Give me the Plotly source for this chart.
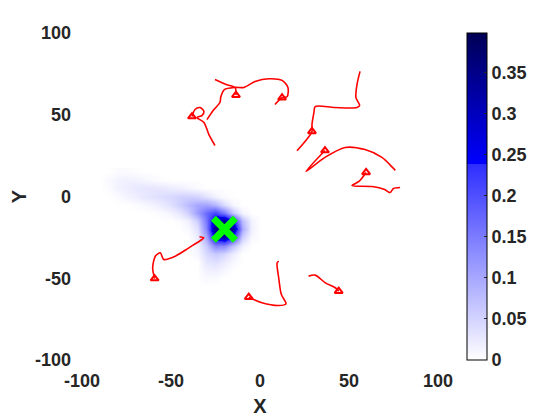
import plotly.graph_objects as go

# density grid
grid_x = [-90, -85, -80, -75, -70, -65, -60, -55, -50, -45, -40, -35, -30, -25, -20, -15, -10, -5, 0]
grid_y = [15, 10, 5, 0, -5, -10, -15, -20, -25, -30, -35, -40, -45, -50, -55]
density = [
    [0, 0, 0.004, 0.004, 0.002, 0, 0, 0, 0, 0, 0, 0, 0, 0, 0, 0, 0, 0, 0],
    [0, 0.006, 0.014, 0.016, 0.014, 0.010, 0.005, 0.002, 0, 0, 0, 0, 0, 0, 0, 0, 0, 0, 0],
    [0, 0.004, 0.014, 0.020, 0.025, 0.028, 0.028, 0.025, 0.020, 0.016, 0.010, 0.005, 0, 0, 0, 0, 0, 0, 0],
    [0, 0, 0.004, 0.012, 0.018, 0.026, 0.032, 0.038, 0.045, 0.052, 0.055, 0.050, 0.035, 0.015, 0.004, 0, 0, 0, 0],
    [0, 0, 0, 0, 0.004, 0.008, 0.014, 0.022, 0.036, 0.055, 0.078, 0.100, 0.105, 0.085, 0.040, 0.010, 0, 0, 0],
    [0, 0, 0, 0, 0, 0, 0.002, 0.006, 0.014, 0.028, 0.055, 0.110, 0.170, 0.210, 0.150, 0.060, 0.012, 0, 0],
    [0, 0, 0, 0, 0, 0, 0, 0, 0, 0.005, 0.016, 0.055, 0.155, 0.310, 0.350, 0.240, 0.075, 0.014, 0],
    [0, 0, 0, 0, 0, 0, 0, 0, 0, 0, 0.008, 0.032, 0.140, 0.355, 0.395, 0.325, 0.095, 0.016, 0],
    [0, 0, 0, 0, 0, 0, 0, 0, 0, 0, 0, 0.020, 0.100, 0.280, 0.335, 0.215, 0.055, 0.008, 0],
    [0, 0, 0, 0, 0, 0, 0, 0, 0, 0, 0, 0.014, 0.060, 0.135, 0.130, 0.065, 0.016, 0, 0],
    [0, 0, 0, 0, 0, 0, 0, 0, 0, 0, 0, 0.010, 0.042, 0.060, 0.046, 0.018, 0, 0, 0],
    [0, 0, 0, 0, 0, 0, 0, 0, 0, 0, 0, 0, 0.028, 0.036, 0.022, 0.007, 0, 0, 0],
    [0, 0, 0, 0, 0, 0, 0, 0, 0, 0, 0, 0, 0.016, 0.018, 0.010, 0, 0, 0, 0],
    [0, 0, 0, 0, 0, 0, 0, 0, 0, 0, 0, 0, 0.006, 0.006, 0, 0, 0, 0, 0],
    [0, 0, 0, 0, 0, 0, 0, 0, 0, 0, 0, 0, 0, 0, 0, 0, 0, 0, 0],
]

# red trajectories
traj_x = [
    [-38.2, -36.5, -33.7, -31.5, -32.6, -35.4, -31.5, -28.7, -25.3],
    [-13.5, -14, -19, -25.3],
    [8.4, 12.4, 15.2, 15.7, 12.4, 5, -2.8, -9, -14, -20, -22, -22.5, -26, -29.8],
    [56.2, 54.5, 53.9, 56, 54.5, 42, 31, 30.3, 29.2, 29.2, 25.3, 20.8],
    [36.5, 25.8, 36.5, 47.8, 59, 68.5, 74, 76],
    [59.6, 55.6, 51.7, 63, 70, 73, 75, 78.7],
    [-59.2, -60.3, -58.8, -56, -54.1, -47.6, -40, -32.6, -31.6, -34],
    [-6.3, 1.1, 10.5, 14.6, 12, 10.5, 9.6, 10.5],
    [44.2, 42.3, 36.7, 31, 27.3],
]
traj_y = [
    [48.9, 53.2, 54.4, 52, 49.5, 48.3, 45.3, 37.9, 31.2],
    [62, 66.7, 68.5, 71.6],
    [56.3, 60.4, 61, 66.7, 71, 72, 70.3, 66.7, 66.7, 65.4, 61, 57.5, 53, 47],
    [76.5, 68.5, 60.5, 55.7, 54.4, 54.4, 55, 51.4, 44, 39.8, 33.6, 28],
    [28.1, 15.3, 23.9, 30, 28.7, 23.9, 18.3, 16],
    [14.7, 9.2, 6.7, 6.1, 4.3, 2.4, 4.9, 5.5],
    [-50.2, -43.6, -36.5, -34.4, -38.5, -36.5, -31.4, -26.3, -25.3, -24.6],
    [-61.6, -65, -66.7, -65.6, -60, -49.7, -40.6, -39.5],
    [-57.9, -55.8, -52.8, -48.1, -48.7],
]
start_x = [-38.2, -13.5, 12.4, 29.2, 36.5, 59.6, -59.2, -6.3, 44.2]
start_y = [48.9, 62, 60.4, 39.8, 28.1, 14.7, -50.2, -61.6, -57.9]

target_x = [-20]
target_y = [-20]

axis_ticks = [-100, -50, 0, 50, 100]
axis_labels = ["-100", "-50", "0", "50", "100"]
cbar_ticks = [0, 0.05, 0.1, 0.15, 0.2, 0.25, 0.3, 0.35]
cbar_labels = ["0", "0.05", "0.1", "0.15", "0.2", "0.25", "0.3", "0.35"]

tick_font = dict(family="Liberation Sans", size=18, color="#262626", weight="bold")
title_font = dict(family="Liberation Sans", size=20, color="#262626", weight="bold")

fig = go.Figure()

fig.add_trace(go.Heatmap(
    x=grid_x, y=grid_y, z=density,
    zmin=0, zmax=0.398,
    zsmooth="best",
    colorscale=[
        [0, "rgb(255,255,255)"],
        [0.6, "rgb(45,45,255)"],
        [0.6, "rgb(0,0,255)"],
        [1, "rgb(0,0,85)"],
    ],
    colorbar=dict(
        x=1.0815, xanchor="left", xpad=0,
        y=0.5, len=1.0, ypad=0,
        thickness=20,
        outlinewidth=1, outlinecolor="black",
        tickvals=cbar_ticks, ticktext=cbar_labels,
        ticks="inside", ticklen=3, tickcolor="#262626",
        tickfont=tick_font,
    ),
    hoverinfo="skip",
))

for xs, ys in zip(traj_x, traj_y):
    fig.add_trace(go.Scatter(
        x=xs, y=ys, mode="lines",
        line=dict(color="red", width=1.6, shape="spline", smoothing=0.8),
        showlegend=False,
    ))

fig.add_trace(go.Scatter(
    x=start_x, y=start_y, mode="markers",
    marker=dict(symbol="triangle-up-open", size=7, color="red", line=dict(width=2, color="red")),
    showlegend=False,
))

fig.add_trace(go.Scatter(
    x=target_x, y=target_y, mode="markers",
    marker=dict(symbol="x-thin-open", size=22, color="#00ff00", line=dict(width=7, color="#00ff00")),
    showlegend=False,
))

axis_common = dict(
    range=[-100, 100],
    tickvals=axis_ticks, ticktext=axis_labels,
    showgrid=False, zeroline=False, showline=False,
    ticks="", automargin=False,
    tickfont=tick_font,
)

# page body adds an 8px offset, so margins are shifted to compensate
fig.update_layout(
    width=560, height=420,
    margin=dict(l=74, r=130, t=25, b=68),
    paper_bgcolor="white", plot_bgcolor="white",
    showlegend=False,
    xaxis=dict(**axis_common, ticklabelstandoff=8,
               title=dict(text="X", standoff=8, font=title_font)),
    yaxis=dict(**axis_common, ticklabelstandoff=10,
               title=dict(text="Y", standoff=19, font=title_font)),
)

fig.write_html("out.html")
